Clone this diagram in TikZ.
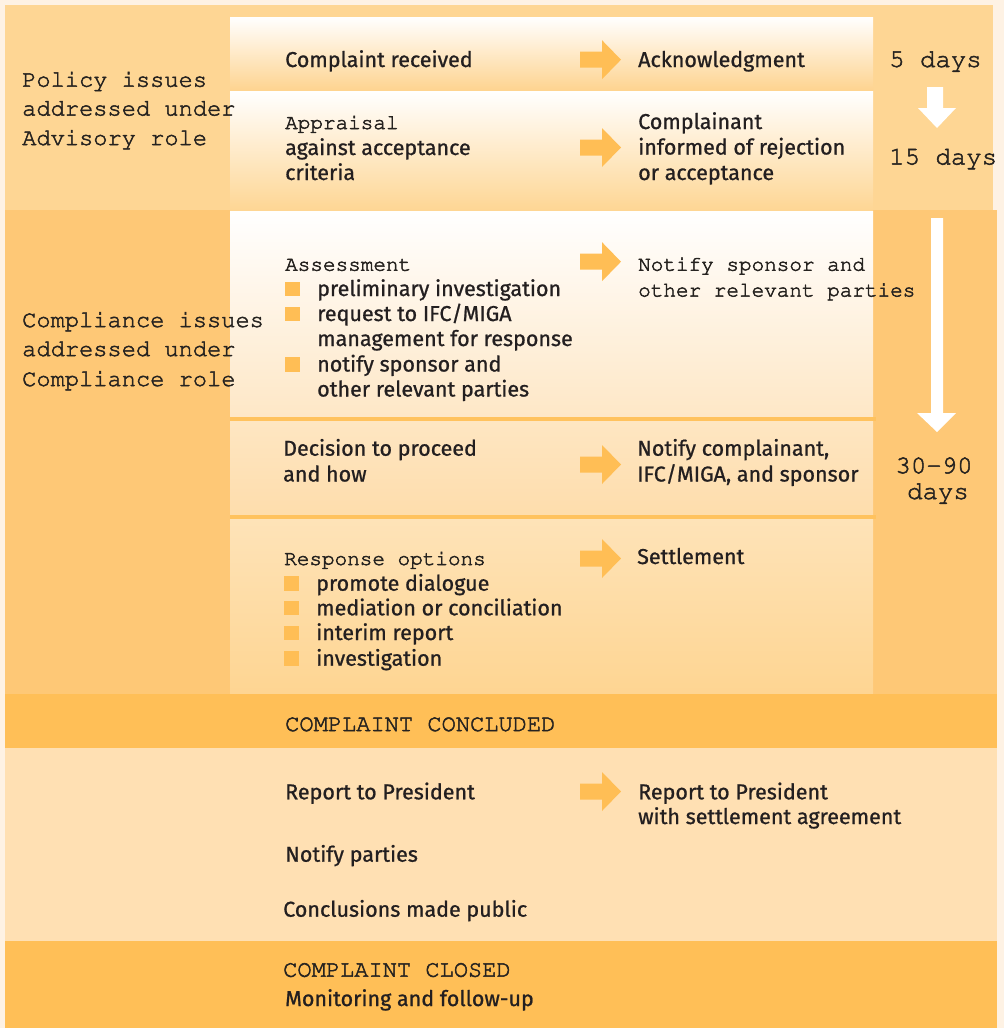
\documentclass[tikz,border=0pt]{standalone}
\usepackage{fontspec}
\newfontfamily\ssf{Fira Sans}[FakeBold=0.9]
\newcommand{\cour}{\fontencoding{T1}\fontfamily{pcr}\fontseries{m}\fontshape{n}}
\newcommand{\heavy}[1]{\special{pdf:literal direct 2 Tr 0.5 w}#1\special{pdf:literal direct 0 Tr}}
\definecolor{cream}{HTML}{FEF2E4}
\definecolor{policy}{HTML}{FED694}
\definecolor{compl}{HTML}{FEC876}
\definecolor{band}{HTML}{FFBF57}
\definecolor{post}{HTML}{FFE0B3}
\definecolor{sepc}{HTML}{FFC25E}
\definecolor{arrc}{HTML}{FFBE55}
\definecolor{txt}{HTML}{231F20}
\definecolor{mtxt}{HTML}{262320}
\tikzset{
  st/.style={anchor=base west, inner sep=0pt, font=\ssf\fontsize{21.5}{25}\selectfont, text=txt},
  mt/.style={anchor=base west, inner sep=0pt, font=\cour\fontsize{21}{26}\selectfont, text=mtxt},
  lt/.style={anchor=base west, inner sep=0pt, font=\cour\fontsize{23.7}{29}\selectfont, text=mtxt},
  dt/.style={anchor=base west, inner sep=0pt, font=\cour\fontsize{25.7}{30}\selectfont, text=mtxt},
  bullet/.style={fill=arrc},
  pics/rarr/.style={code={\fill[arrc] (0,-8) -- (22,-8) -- (22,-19.5) -- (41,0) -- (22,19.5) -- (22,8) -- (0,8) -- cycle;}},
}
\begin{document}
\begin{tikzpicture}[x=1pt,y=-1pt]
\useasboundingbox (0,0) rectangle (1004,1028);
% backgrounds
\fill[cream] (0,0) rectangle (1004,1028);
\fill[policy] (5,5) rectangle (993,210);
\fill[compl] (5,210) rectangle (997,694);
\shade[top color=white, bottom color=policy!97!orange] (230,17) rectangle (873,90.5);
\shade[top color=white, bottom color=policy] (230,91) rectangle (873,210);
\shade[top color=white, bottom color={rgb,255:red,254;green,231;blue,198}] (230,211) rectangle (873,417);
\fill[sepc] (230,417) rectangle (876,421);
\shade[top color={rgb,255:red,254;green,230;blue,194}, bottom color={rgb,255:red,254;green,221;blue,172}] (230,421) rectangle (873,515);
\fill[sepc] (230,515) rectangle (876,519);
\shade[top color={rgb,255:red,254;green,227;blue,184}, bottom color={rgb,255:red,254;green,213;blue,146}] (230,519) rectangle (873,694);
\fill[band] (5,694) rectangle (997,748);
\fill[post] (5,748) rectangle (997,941);
\fill[band] (5,941) rectangle (997,1028);

% left labels
\node[lt] (p1) at (22,86.7) {\heavy{Policy issues}};
\node[lt] (p2) at (22,115.5) {\heavy{addressed under}};
\node[lt] (p3) at (22,145) {\heavy{Advisory role}};
\node[lt] (c1) at (22,327) {\heavy{Compliance issues}};
\node[lt] (c2) at (22,356) {\heavy{addressed under}};
\node[lt] (c3) at (22,386) {\heavy{Compliance role}};

% row 1
\node[st] (r1a) at (285,67) {Complaint received};
\pic at (580,59.7) {rarr};
\node[st] (r1b) at (638,67) {Acknowledgment};
% row 2
\node[mt] (r2a) at (285,129) {\heavy{Appraisal}};
\node[st] (r2b) at (285,155) {against acceptance};
\node[st] (r2c) at (285,180) {criteria};
\pic at (580,147.5) {rarr};
\node[st] (r2d) at (638,129) {Complainant};
\node[st] (r2e) at (638,154.5) {informed of rejection};
\node[st] (r2f) at (638,180) {or acceptance};
% row 3
\node[mt] (r3a) at (285,270.7) {\heavy{Assessment}};
\foreach \yy in {296,321,371.5}{
  \fill[bullet] (285,\yy-14.5) rectangle (300,\yy);
}
\node[st] (b1) at (317,296) {preliminary investigation};
\node[st] (b2) at (317,321) {request to IFC/MIGA};
\node[st] (b3) at (317,346) {management for response};
\node[st] (b4) at (317,371.5) {notify sponsor and};
\node[st] (b5) at (317,396.5) {other relevant parties};
\pic at (580,261.7) {rarr};
\node[mt] (r3b) at (638,270.7) {\heavy{Notify sponsor and}};
\node[mt] (r3c) at (638,296.5) {\heavy{other relevant parties}};
% row 4
\node[st] (r4a) at (283,455.7) {Decision to proceed};
\node[st] (r4b) at (283,481.5) {and how};
\pic at (580,464.5) {rarr};
\node[st] (r4c) at (637,455.7) {Notify complainant,};
\node[st] (r4d) at (637,481.5) {IFC/MIGA, and sponsor};
% row 5
\node[mt] (r5a) at (284,565) {\heavy{Response options}};
\foreach \yy in {590.7,615.3,640,665.7}{
  \fill[bullet] (284,\yy-14.5) rectangle (299,\yy);
}
\node[st] (o1) at (316,590.7) {promote dialogue};
\node[st] (o2) at (316,615.3) {mediation or conciliation};
\node[st] (o3) at (316,640) {interim report};
\node[st] (o4) at (316,665.7) {investigation};
\pic at (580,558.5) {rarr};
\node[st] (r5b) at (637,564) {Settlement};

% days
\node[dt] (d5) at (889,67) {\heavy{5 days}};
\node[dt] (d15) at (889,164.5) {\heavy{15 days}};
\node[dt, anchor=base] (d30) at (934,473.3) {\heavy{30\textendash 90}};
\node[dt, anchor=base] (d30b) at (938,499) {\heavy{days}};
\fill[white] (927,87) -- (943,87) -- (943,108) -- (956,108) -- (937,128) -- (918,108) -- (927,108) -- cycle;
\fill[white] (931,218) -- (943,218) -- (943,413) -- (956,413) -- (937,432) -- (917,413) -- (931,413) -- cycle;

% concluded
\node[lt] (cc) at (285,731) {\heavy{COMPLAINT CONCLUDED}};
\node[st] (q1) at (285,799.3) {Report to President};
\pic at (580,791.5) {rarr};
\node[st] (q2) at (638,799.3) {Report to President};
\node[st] (q3) at (638,824) {with settlement agreement};
\node[st] (q4) at (285,861.7) {Notify parties};
\node[st] (q5) at (283,916.7) {Conclusions made public};
% closed
\node[lt] (cl) at (283,976.7) {\heavy{COMPLAINT CLOSED}};
\node[st] (q6) at (285,1006) {Monitoring and follow-up};
\end{tikzpicture}
\end{document}
